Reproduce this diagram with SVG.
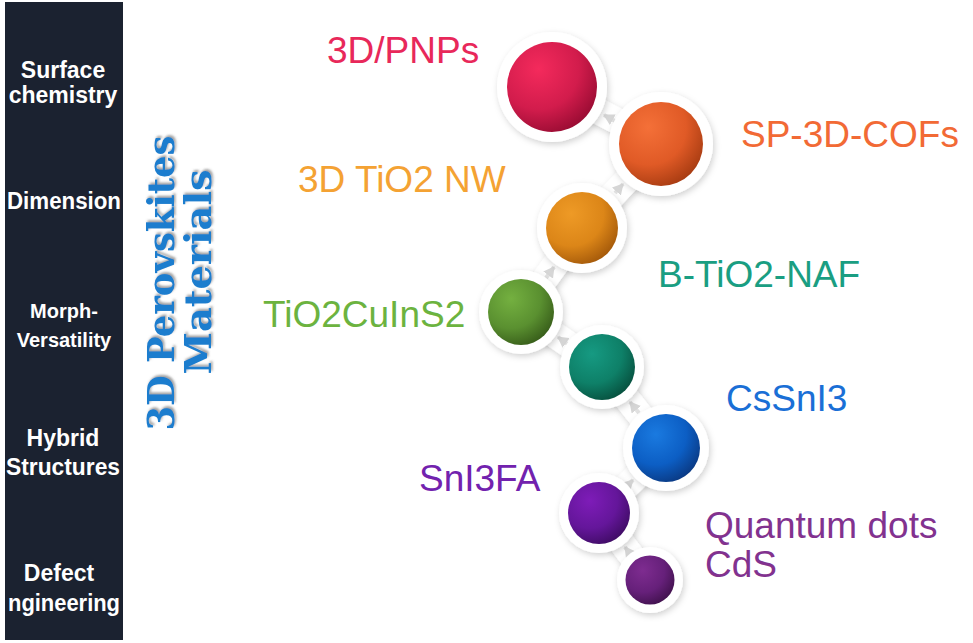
<svg xmlns="http://www.w3.org/2000/svg" width="973" height="643" viewBox="0 0 973 643">
<style>
.side{font-family:"Liberation Sans",Arial,sans-serif;font-weight:bold;fill:#ffffff;text-anchor:middle}
.lbl{font-family:"Liberation Sans",Arial,sans-serif;font-size:37px}
.ring{fill:#ffffff;filter:url(#sh)}
.bar{stroke:#ffffff;stroke-width:26;stroke-linecap:butt;filter:url(#sh)}
.arr{stroke:#e2e2e2;stroke-width:4;marker-end:url(#ah)}
.title{font-family:"DejaVu Serif","Liberation Serif",serif;font-weight:bold;font-size:37px;fill:#1b7dce;text-anchor:middle;filter:url(#tsh)}
</style>
<defs>
<filter id="sh" x="-30%" y="-30%" width="160%" height="160%">
<feDropShadow dx="1.5" dy="2.5" stdDeviation="3" flood-color="#000" flood-opacity="0.18"/>
</filter>
<filter id="tsh" x="-10%" y="-10%" width="120%" height="120%">
<feDropShadow dx="2" dy="1.5" stdDeviation="0.8" flood-color="#555" flood-opacity="0.55"/>
</filter>
<marker id="ah" markerUnits="userSpaceOnUse" markerWidth="12" markerHeight="12" refX="10" refY="6" orient="auto">
<path d="M0,0 L11,6 L0,12 Z" fill="#d6d6d6"/>
</marker>
<radialGradient id="gRed" cx="35%" cy="30%" r="75%"><stop offset="0" stop-color="#f42a5c"/><stop offset="0.6" stop-color="#d21c4c"/><stop offset="1" stop-color="#9a0c33"/></radialGradient>
<radialGradient id="gOra" cx="35%" cy="30%" r="75%"><stop offset="0" stop-color="#f47038"/><stop offset="0.6" stop-color="#e05a26"/><stop offset="1" stop-color="#a83c12"/></radialGradient>
<radialGradient id="gAmb" cx="35%" cy="30%" r="75%"><stop offset="0" stop-color="#ee9a26"/><stop offset="0.6" stop-color="#dc8618"/><stop offset="1" stop-color="#a55a0a"/></radialGradient>
<radialGradient id="gGrn" cx="35%" cy="30%" r="75%"><stop offset="0" stop-color="#74b040"/><stop offset="0.6" stop-color="#5a9030"/><stop offset="1" stop-color="#385e1a"/></radialGradient>
<radialGradient id="gTea" cx="35%" cy="30%" r="75%"><stop offset="0" stop-color="#169a82"/><stop offset="0.6" stop-color="#0e8068"/><stop offset="1" stop-color="#07513f"/></radialGradient>
<radialGradient id="gBlu" cx="35%" cy="30%" r="75%"><stop offset="0" stop-color="#1a7ae0"/><stop offset="0.6" stop-color="#0c5ec4"/><stop offset="1" stop-color="#0a3a84"/></radialGradient>
<radialGradient id="gPur" cx="35%" cy="30%" r="75%"><stop offset="0" stop-color="#7e1cb8"/><stop offset="0.6" stop-color="#64169a"/><stop offset="1" stop-color="#400c66"/></radialGradient>
<radialGradient id="gDpu" cx="35%" cy="30%" r="75%"><stop offset="0" stop-color="#7e2c90"/><stop offset="0.6" stop-color="#66207a"/><stop offset="1" stop-color="#42124f"/></radialGradient>
</defs>
<rect width="973" height="643" fill="#ffffff"/>

<g id="side-panel">
<rect x="5" y="2" width="118" height="638" fill="#1b2230"/>
<text class="side" x="63" y="78" font-size="23">Surface</text>
<text class="side" x="63" y="103" font-size="23">chemistry</text>
<text class="side" x="64" y="209" font-size="23" textLength="114" lengthAdjust="spacingAndGlyphs">Dimension</text>
<text class="side" x="64" y="318" font-size="20">Morph-</text>
<text class="side" x="64" y="347" font-size="20">Versatility</text>
<text class="side" x="63" y="446" font-size="23">Hybrid</text>
<text class="side" x="63" y="475" font-size="23" textLength="114" lengthAdjust="spacingAndGlyphs">Structures</text>
<text class="side" x="59" y="581" font-size="23">Defect</text>
<text class="side" x="64" y="611" font-size="23" textLength="112" lengthAdjust="spacingAndGlyphs">ngineering</text>
</g>

<g id="title">
<text class="title" transform="translate(174,283) rotate(-90)" textLength="295" lengthAdjust="spacingAndGlyphs">3D Perovskites</text>
<text class="title" transform="translate(211,272) rotate(-90)" textLength="205" lengthAdjust="spacingAndGlyphs">Materials</text>
</g>

<g id="connectors">
<line class="bar" x1="661" y1="144" x2="552" y2="87"/>
<line class="bar" x1="582" y1="228" x2="661" y2="144"/>
<line class="bar" x1="521" y1="312" x2="582" y2="228"/>
<line class="bar" x1="602" y1="367" x2="521" y2="312"/>
<line class="bar" x1="666" y1="448" x2="602" y2="367"/>
<line class="bar" x1="599" y1="513" x2="666" y2="448"/>
<line class="bar" x1="650" y1="580" x2="599" y2="513"/>
<line class="arr" x1="615" y1="121" x2="604" y2="115"/>
<line class="arr" x1="615" y1="193" x2="623" y2="184"/>
<line class="arr" x1="546" y1="278" x2="554" y2="267"/>
<line class="arr" x1="569" y1="345" x2="558" y2="337"/>
<line class="arr" x1="639" y1="413" x2="630" y2="402"/>
<line class="arr" x1="623" y1="490" x2="633" y2="480"/>
<line class="arr" x1="633" y1="558" x2="625" y2="547"/>
</g>

<g id="node-3d-pnps">
<circle class="ring" cx="552" cy="87" r="55"/>
<circle cx="552" cy="87" r="45" fill="url(#gRed)"/>
<text class="lbl" x="327" y="63" fill="#e8285a">3D/PNPs</text>
</g>
<g id="node-sp-3d-cofs">
<circle class="ring" cx="661" cy="144" r="52"/>
<circle cx="661" cy="144" r="42" fill="url(#gOra)"/>
<text class="lbl" x="741" y="147" fill="#f26a35">SP-3D-COFs</text>
</g>
<g id="node-3d-tio2-nw">
<circle class="ring" cx="582" cy="228" r="45"/>
<circle cx="582" cy="228" r="36" fill="url(#gAmb)"/>
<text class="lbl" x="298" y="192" fill="#f4a233">3D TiO2 NW</text>
</g>
<g id="node-tio2cuins2">
<circle class="ring" cx="521" cy="312" r="42"/>
<circle cx="521" cy="312" r="33" fill="url(#gGrn)"/>
<text class="lbl" x="263" y="327" fill="#6cb33f">TiO2CuInS2</text>
</g>
<g id="node-b-tio2-naf">
<circle class="ring" cx="602" cy="367" r="42"/>
<circle cx="602" cy="367" r="33" fill="url(#gTea)"/>
<text class="lbl" x="658" y="287" fill="#1a9e82">B-TiO2-NAF</text>
</g>
<g id="node-cssni3">
<circle class="ring" cx="666" cy="448" r="43"/>
<circle cx="666" cy="448" r="34" fill="url(#gBlu)"/>
<text class="lbl" x="726" y="411" fill="#1a6fd6">CsSnI3</text>
</g>
<g id="node-sni3fa">
<circle class="ring" cx="599" cy="513" r="40"/>
<circle cx="599" cy="513" r="31" fill="url(#gPur)"/>
<text class="lbl" x="419" y="491" fill="#7222ae">SnI3FA</text>
</g>
<g id="node-quantum-dots-cds">
<circle class="ring" cx="650" cy="580" r="33"/>
<circle cx="650" cy="580" r="24.5" fill="url(#gDpu)"/>
<text class="lbl" x="705" y="538" fill="#82328f">Quantum dots</text>
<text class="lbl" x="705" y="577" fill="#82328f">CdS</text>
</g>
</svg>
